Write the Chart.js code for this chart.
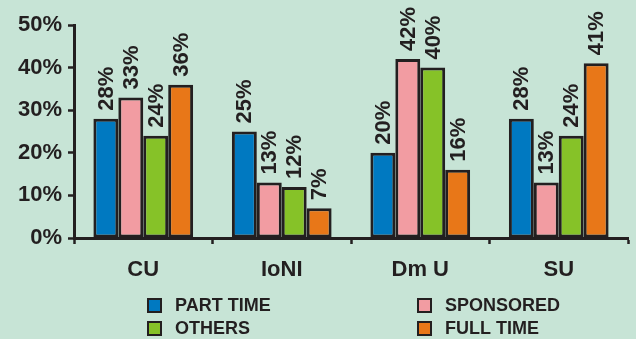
<!DOCTYPE html>
<html>
<head>
<meta charset="utf-8">
<script src="https://cdn.jsdelivr.net/npm/chart.js@4/dist/chart.umd.min.js"></script>
<style>
  html, body { margin: 0; padding: 0; background: #c7e4d6; }
  #wrap { width: 636px; height: 339px; }
</style>
</head>
<body>
<div id="wrap"><canvas id="c" width="636" height="339"></canvas></div>
<script>
// Share of students by mode of study, per university
const categories = ['CU', 'IoNI', 'Dm U', 'SU'];
const partTime  = [28, 25, 20, 28];
const sponsored = [33, 13, 42, 13];
const others    = [24, 12, 40, 24];
const fullTime  = [36, 7, 16, 41];
const yTicks = [0, 10, 20, 30, 40, 50];

const INK = '#231f20';
const FONT = '"Liberation Sans", Arial, Helvetica, sans-serif';

const series = [
  { label: 'PART TIME', data: partTime,  color: '#0079c1' },
  { label: 'SPONSORED', data: sponsored, color: '#f29ca2' },
  { label: 'OTHERS',    data: others,    color: '#86c228' },
  { label: 'FULL TIME', data: fullTime,  color: '#e87718' }
];

// Rotated value labels above each bar
const valueLabels = {
  id: 'valueLabels',
  afterDatasetsDraw(chart) {
    const ctx = chart.ctx;
    ctx.save();
    ctx.fillStyle = INK;
    ctx.font = 'bold 22px ' + FONT;
    ctx.textAlign = 'left';
    ctx.textBaseline = 'middle';
    chart.data.datasets.forEach((ds, i) => {
      chart.getDatasetMeta(i).data.forEach((el, j) => {
        ctx.save();
        ctx.translate(el.x + 1, el.y - 8);
        ctx.rotate(-Math.PI / 2);
        ctx.fillText(ds.data[j] + '%', 0, 0);
        ctx.restore();
      });
    });
    ctx.restore();
  }
};

// Two-column legend under the category labels
const boxLegend = {
  id: 'boxLegend',
  afterDraw(chart) {
    const ctx = chart.ctx;
    const cols = [148, 418];
    const rows = [299, 322];
    ctx.save();
    ctx.font = 'bold 18px ' + FONT;
    ctx.textBaseline = 'middle';
    ctx.textAlign = 'left';
    series.forEach((s, i) => {
      const x = cols[i % 2];
      const y = rows[Math.floor(i / 2)];
      ctx.fillStyle = s.color;
      ctx.fillRect(x, y, 13, 13);
      ctx.lineWidth = 2;
      ctx.strokeStyle = INK;
      ctx.strokeRect(x, y, 13, 13);
      ctx.fillStyle = INK;
      ctx.fillText(s.label, x + 27, y + 7);
    });
    ctx.restore();
  }
};

new Chart(document.getElementById('c'), {
  type: 'bar',
  data: {
    labels: categories,
    datasets: series.map(s => ({
      label: s.label,
      data: s.data,
      backgroundColor: s.color,
      borderColor: INK,
      borderWidth: 3,
      borderSkipped: false,
      categoryPercentage: 0.72,
      barPercentage: 1.0
    }))
  },
  options: {
    responsive: false,
    animation: false,
    devicePixelRatio: 1,
    layout: { padding: { left: 0, right: 8, top: 25, bottom: 51 } },
    plugins: {
      legend: { display: false },
      tooltip: { enabled: false }
    },
    scales: {
      x: {
        afterFit(scale) { scale.height = 50; },
        border: { color: INK, width: 3 },
        grid: {
          offset: true,
          drawOnChartArea: false,
          tickLength: 6,
          tickColor: INK,
          tickWidth: 2.5
        },
        ticks: {
          color: INK,
          padding: 13,
          font: { family: FONT, size: 22, weight: 'bold' }
        }
      },
      y: {
        min: 0,
        max: 50,
        afterFit(scale) { scale.width = 74; },
        afterBuildTicks(scale) { scale.ticks = yTicks.map(v => ({ value: v })); },
        border: { color: INK, width: 3 },
        grid: {
          drawOnChartArea: false,
          tickLength: 6,
          tickColor: INK,
          tickWidth: 2.5
        },
        ticks: {
          color: INK,
          padding: 6,
          font: { family: FONT, size: 22, weight: 'bold' },
          callback: v => v + '%'
        }
      }
    }
  },
  plugins: [valueLabels, boxLegend]
});
</script>
</body>
</html>
